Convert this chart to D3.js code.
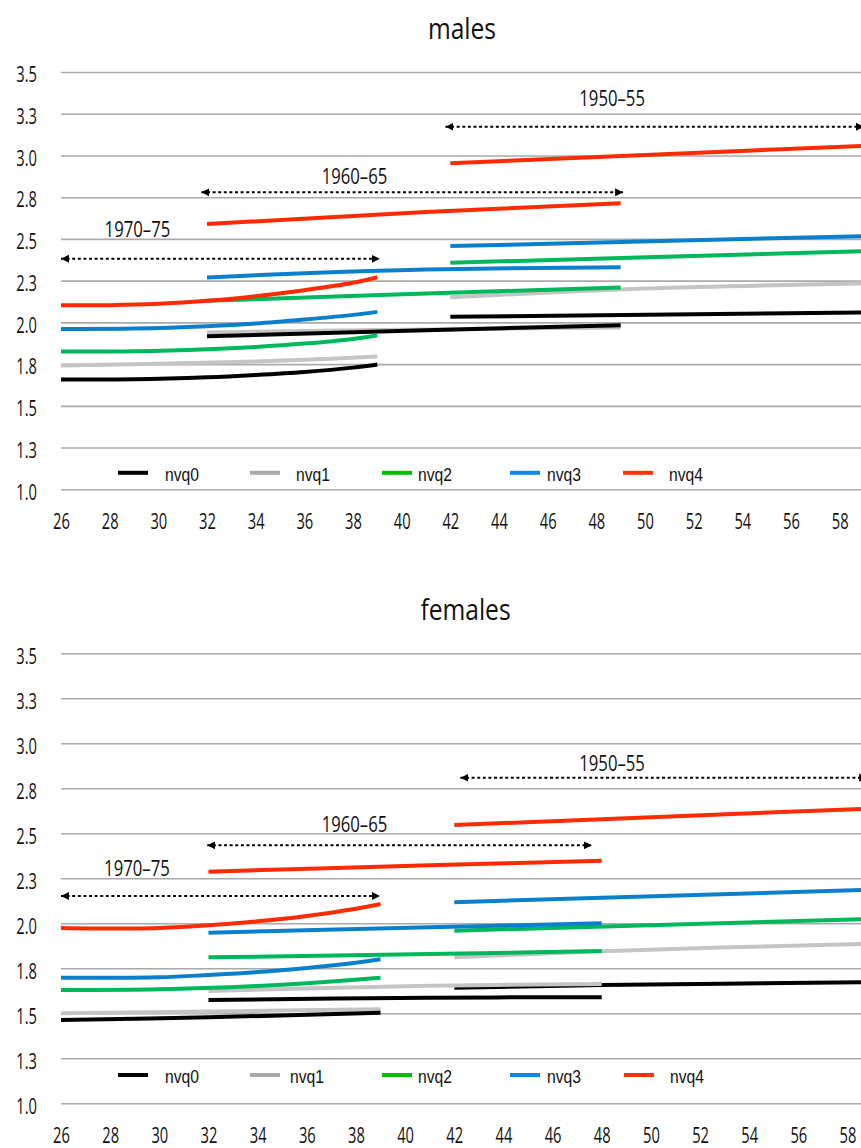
<!DOCTYPE html>
<html>
<head>
<meta charset="utf-8">
<script src="https://cdn.jsdelivr.net/npm/d3@7"></script>
<style>
  body { margin: 0; background: #fff; }
  svg text { fill: #111; }
  .tick-label { font-family: "Open Sans", sans-serif; font-size: 21px; }
  .title { font-family: "Open Sans", sans-serif; font-size: 30px; }
  .cohort { font-family: "Open Sans", sans-serif; font-size: 22px; }
  .legend text { font-family: "Liberation Sans", Arial, sans-serif; font-size: 18px; }
</style>
</head>
<body>
<svg id="chart" width="861" height="1148"></svg>
<script>

// categories / ticks
const levels = ["nvq0", "nvq1", "nvq2", "nvq3", "nvq4"];
const cohorts = ["1950\u201355", "1960\u201365", "1970\u201375"];
const xTicks = d3.range(26, 59, 2);
const yTicks = [1.0, 1.25, 1.5, 1.75, 2.0, 2.25, 2.5, 2.75, 3.0, 3.25, 3.5];

// males: [age, value] per nvq level, one array per cohort
const males5055 = [
  [[42, 2.033], [59, 2.059]],
  [[42, 2.150], [50, 2.203], [59, 2.233]],
  [[42, 2.357], [59, 2.427]],
  [[42, 2.457], [59, 2.517]],
  [[42, 2.953], [59, 3.058]]
];
const males6065 = [
  [[32, 1.917], [41, 1.953], [49, 1.983]],
  [[32, 1.940], [41, 1.958], [49, 1.970]],
  [[32, 2.129], [41, 2.173], [49, 2.209]],
  [[32, 2.269], [36, 2.295], [41, 2.317], [49, 2.331]],
  [[32, 2.589], [41, 2.661], [49, 2.713]]
];
const males7075 = [
  [[26, 1.658], [29, 1.659], [32, 1.671], [34, 1.685], [36, 1.703], [38, 1.729], [39, 1.748]],
  [[26, 1.741], [30, 1.752], [34, 1.766], [36, 1.776], [39, 1.795]],
  [[26, 1.825], [29, 1.827], [32, 1.839], [34, 1.853], [36, 1.873], [38, 1.901], [39, 1.923]],
  [[26, 1.961], [29, 1.963], [32, 1.977], [34, 1.993], [36, 2.017], [38, 2.045], [39, 2.063]],
  [[26, 2.103], [28, 2.103], [30, 2.111], [32, 2.129], [34, 2.157], [36, 2.193], [38, 2.237], [39, 2.270]]
];

// females
const females5055 = [
  [[42, 1.642], [48, 1.657], [59, 1.673]],
  [[42, 1.811], [48, 1.845], [59, 1.887]],
  [[42, 1.959], [59, 2.024]],
  [[42, 2.117], [59, 2.187]],
  [[42, 2.546], [59, 2.638]]
];
const females6065 = [
  [[32, 1.574], [41, 1.587], [48, 1.589]],
  [[32, 1.624], [41, 1.653], [48, 1.663]],
  [[32, 1.811], [41, 1.829], [48, 1.846]],
  [[32, 1.948], [41, 1.978], [48, 2.000]],
  [[32, 2.287], [41, 2.322], [48, 2.347]]
];
const females7075 = [
  [[26, 1.463], [32, 1.478], [39, 1.503]],
  [[26, 1.500], [32, 1.510], [39, 1.522]],
  [[26, 1.629], [30, 1.633], [34, 1.652], [36, 1.667], [39, 1.698]],
  [[26, 1.698], [30, 1.700], [32, 1.713], [34, 1.729], [36, 1.752], [38, 1.781], [39, 1.800]],
  [[26, 1.974], [28, 1.971], [30, 1.974], [32, 1.989], [34, 2.011], [36, 2.041], [38, 2.081], [39, 2.107]]
];

// cohort arrows: age span and level, label anchor (age, value)
const maleArrowSpan = [[41.8, 59], [31.77, 49.1], [26, 39.1]];
const maleArrowY = [3.172, 2.779, 2.381];
const maleLabelAt = [[48.65, 3.296], [38.06, 2.827], [29.14, 2.511]];
const femaleArrowSpan = [[42.25, 58.8], [31.95, 47.6], [26, 38.98]];
const femaleArrowY = [2.809, 2.433, 2.152];
const femaleLabelAt = [[48.42, 2.848], [37.94, 2.506], [29.09, 2.263]];

const lineColors = ["#000000", "#c4c4c4", "#00b85c", "#0a80cc", "#ff2a00"];
const legendColors = ["#000000", "#aaaaaa", "#00c000", "#0a88f0", "#ff3300"];

const W = 861;
const svg = d3.select("#chart");

// arrowhead
svg.append("defs").append("marker")
    .attr("id", "head")
    .attr("markerUnits", "userSpaceOnUse")
    .attr("viewBox", "0 -5 8 10")
    .attr("refX", 8).attr("refY", 0)
    .attr("markerWidth", 8).attr("markerHeight", 10)
    .attr("orient", "auto-start-reverse")
  .append("path")
    .attr("d", "M0,-4L8,0L0,4Z")
    .attr("fill", "#000");

function squeeze(sx, dx, dy) {
  return "translate(" + (dx || 0) + "," + (dy || 0) + ") scale(" + sx + ",1)";
}

function drawPanel(p) {

  let x = d3.scaleLinear().domain([26, 59]).range([61, p.xEnd]);
  let y = d3.scaleLinear().domain([1, 3.5]).range([p.bottom, p.top]);

  let g = svg.append("g");

  // horizontal gridlines + y labels
  let yAxis = g.append("g")
      .attr("transform", "translate(61,0)")
      .call(d3.axisLeft(y).tickValues(yTicks).tickSize(-(W - 61))
              .tickFormat(d3.format(".1f")));
  yAxis.select(".domain").remove();
  yAxis.selectAll(".tick line").attr("stroke", "#aaaaaa").attr("stroke-width", 1.6);
  yAxis.selectAll(".tick text")
      .attr("class", "tick-label")
      .attr("x", null).attr("dy", null)
      .attr("transform", squeeze(0.7, -24, 9.8));

  // x labels
  let xAxis = g.append("g")
      .attr("transform", "translate(0," + p.bottom + ")")
      .call(d3.axisBottom(x).tickValues(xTicks).tickSize(0));
  xAxis.select(".domain").remove();
  xAxis.selectAll(".tick text")
      .attr("class", "tick-label")
      .attr("y", null).attr("dy", null)
      .attr("transform", squeeze(0.7, 0, 39.5));

  // title
  g.append("text")
      .attr("class", "title")
      .attr("text-anchor", "middle")
      .attr("transform", squeeze(0.82, p.titleX, p.titleY))
      .text(p.title);

  // series lines
  let line = d3.line()
      .x(function(d) { return x(d[0]); })
      .y(function(d) { return y(d[1]); })
      .curve(d3.curveCatmullRom.alpha(0.5));

  p.series.forEach(function(cohort) {
    for (let i = levels.length - 1; i >= 0; i--) {
      g.append("path")
          .attr("d", line(cohort[i]))
          .attr("fill", "none")
          .attr("stroke", lineColors[i])
          .attr("stroke-width", 4);
    }
  });

  // cohort arrows + labels
  cohorts.forEach(function(c, i) {
    g.append("line")
        .attr("x1", x(p.arrowSpan[i][0]))
        .attr("x2", x(p.arrowSpan[i][1]))
        .attr("y1", y(p.arrowY[i]))
        .attr("y2", y(p.arrowY[i]))
        .attr("stroke", "#000")
        .attr("stroke-width", 2)
        .attr("stroke-dasharray", "3,2.6")
        .attr("marker-start", "url(#head)")
        .attr("marker-end", "url(#head)");

    g.append("text")
        .attr("class", "cohort")
        .attr("text-anchor", "middle")
        .attr("transform", squeeze(0.76, x(p.labelAt[i][0]), y(p.labelAt[i][1])))
        .text(c);
  });

  // legend
  let legend = g.append("g").attr("class", "legend");
  levels.forEach(function(name, i) {
    legend.append("line")
        .attr("x1", p.legLineX[i]).attr("x2", p.legLineX[i] + 30)
        .attr("y1", p.legY).attr("y2", p.legY)
        .attr("stroke", legendColors[i])
        .attr("stroke-width", 4);
    legend.append("text")
        .attr("transform", squeeze(0.87, p.legTextX[i], p.legY + 8))
        .text(name);
  });
}

drawPanel({
  title: "males", titleX: 462, titleY: 39,
  top: 72, bottom: 489.3, xEnd: 864,
  series: [males5055, males6065, males7075],
  arrowSpan: maleArrowSpan, arrowY: maleArrowY, labelAt: maleLabelAt,
  legY: 472.8,
  legLineX: [118, 250, 382, 510, 623],
  legTextX: [165, 296, 418, 547, 669]
});

drawPanel({
  title: "females", titleX: 465.5, titleY: 620,
  top: 653.3, bottom: 1103.3, xEnd: 872.1,
  series: [females5055, females6065, females7075],
  arrowSpan: femaleArrowSpan, arrowY: femaleArrowY, labelAt: femaleLabelAt,
  legY: 1075,
  legLineX: [118, 250, 382, 510, 624],
  legTextX: [165, 290, 418, 547, 670]
});

</script>
</body>
</html>
